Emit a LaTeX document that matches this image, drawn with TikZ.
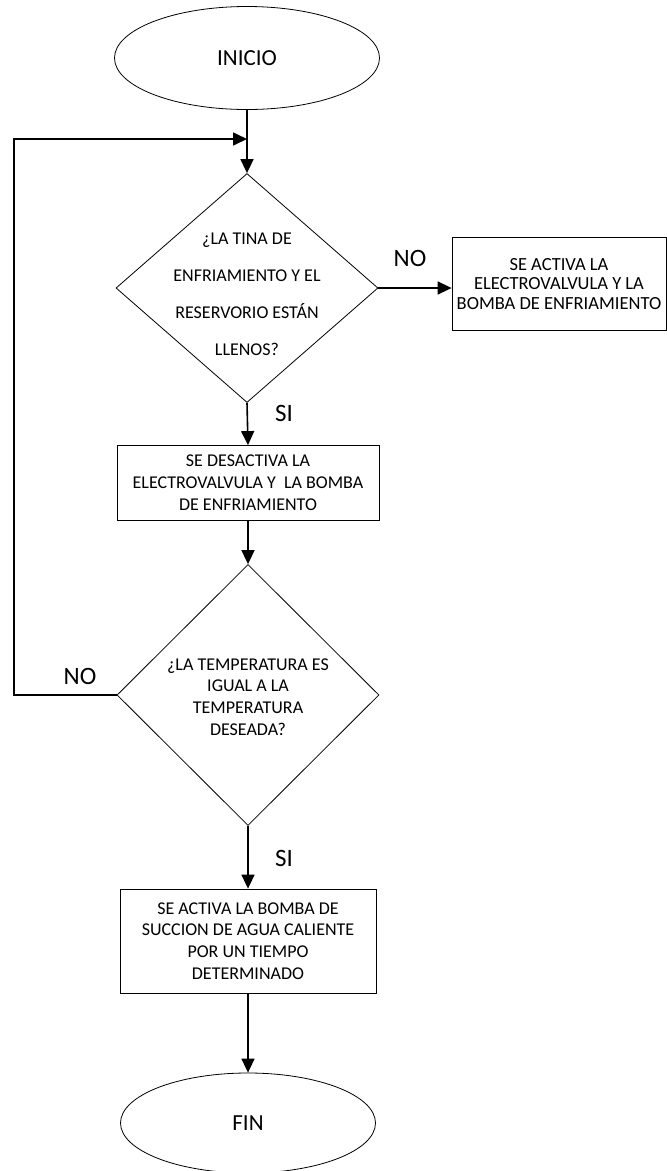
\documentclass[tikz,border=0pt]{standalone}
\usepackage{fontspec}
\setmainfont{Carlito}
\usepackage{tikz}
\usetikzlibrary{shapes,arrows.meta}

\begin{document}
\begin{tikzpicture}[x=1pt, y=-1pt,
  flecha/.style={-{Triangle[length=14pt,width=13pt]}, line width=1.6pt},
  linea/.style={line width=1.6pt},
  texto/.style={font=\fontsize{18}{22}\selectfont, align=center},
  etiqueta/.style={font=\fontsize{25}{28}\selectfont},
  caja/.style={texto, draw, line width=0.8pt, rectangle, inner sep=0pt},
  decision/.style={draw, line width=0.8pt, diamond, inner sep=0pt},
  limite/.style={draw, line width=0.8pt, ellipse, inner sep=0pt, font=\fontsize{23}{26}\selectfont}]

  \useasboundingbox (0,0) rectangle (667,1171);

  \node[limite, minimum width=265pt, minimum height=103pt] (ini) at (247, 58) {INICIO};

  \node[decision, minimum width=262pt, minimum height=229pt] (p1) at (247, 288) {};
  \node[texto, font=\fontsize{18}{37}\selectfont] (p1txt) at (247, 294)
    {¿LA TINA DE\\ ENFRIAMIENTO Y EL\\ RESERVORIO ESTÁN\\ LLENOS?};

  \node[caja, font=\fontsize{18.5}{19.8}\selectfont, minimum width=214pt, minimum height=93pt] (act1) at (559, 284)
    {SE ACTIVA LA\\ ELECTROVALVULA Y LA\\ BOMBA DE ENFRIAMIENTO};

  \node[caja, minimum width=262pt, minimum height=75pt] (des1) at (248, 483)
    {SE DESACTIVA LA\\ ELECTROVALVULA Y\ \ LA BOMBA\\ DE ENFRIAMIENTO};

  \node[decision, minimum width=262pt, minimum height=261pt] (p2) at (248, 695) {};
  \node[texto, font=\fontsize{18}{21.7}\selectfont] (p2txt) at (248, 697)
    {¿LA TEMPERATURA ES\\ IGUAL A LA\\ TEMPERATURA\\ DESEADA?};

  \node[caja, font=\fontsize{18}{21.7}\selectfont, minimum width=256pt, minimum height=104pt] (act2) at (248, 941)
    {SE ACTIVA LA BOMBA DE\\ SUCCION DE AGUA CALIENTE\\ POR UN TIEMPO\\ DETERMINADO};

  \node[limite, minimum width=255pt, minimum height=100pt] (fin) at (248, 1123) {FIN};

  \coordinate (union) at (247, 139);
  \coordinate (esquina) at (14, 139);

  %% etiquetas
  \node[etiqueta] (no1) at (410, 258) {NO};
  \node[etiqueta] (si1) at (284, 413) {SI};
  \node[etiqueta] (no2) at (80, 676) {NO};
  \node[etiqueta] (si2) at (284, 858) {SI};

  \draw[linea] (ini.south) -- (union);
  \draw[flecha] (union) -- (p1.north);
  \draw[flecha] (p1.east) -- (act1.west |- p1.east); %% NO
  \draw[flecha] (p1.south) -- (des1.north); %% SI
  \draw[flecha] (des1.south) -- (p2.north);
  \draw[flecha] (p2.west) -| (esquina) -- (union); %% NO
  \draw[flecha] (p2.south) -- (act2.north); %% SI
  \draw[flecha] (act2.south) -- (fin.north);
\end{tikzpicture}
\end{document}
